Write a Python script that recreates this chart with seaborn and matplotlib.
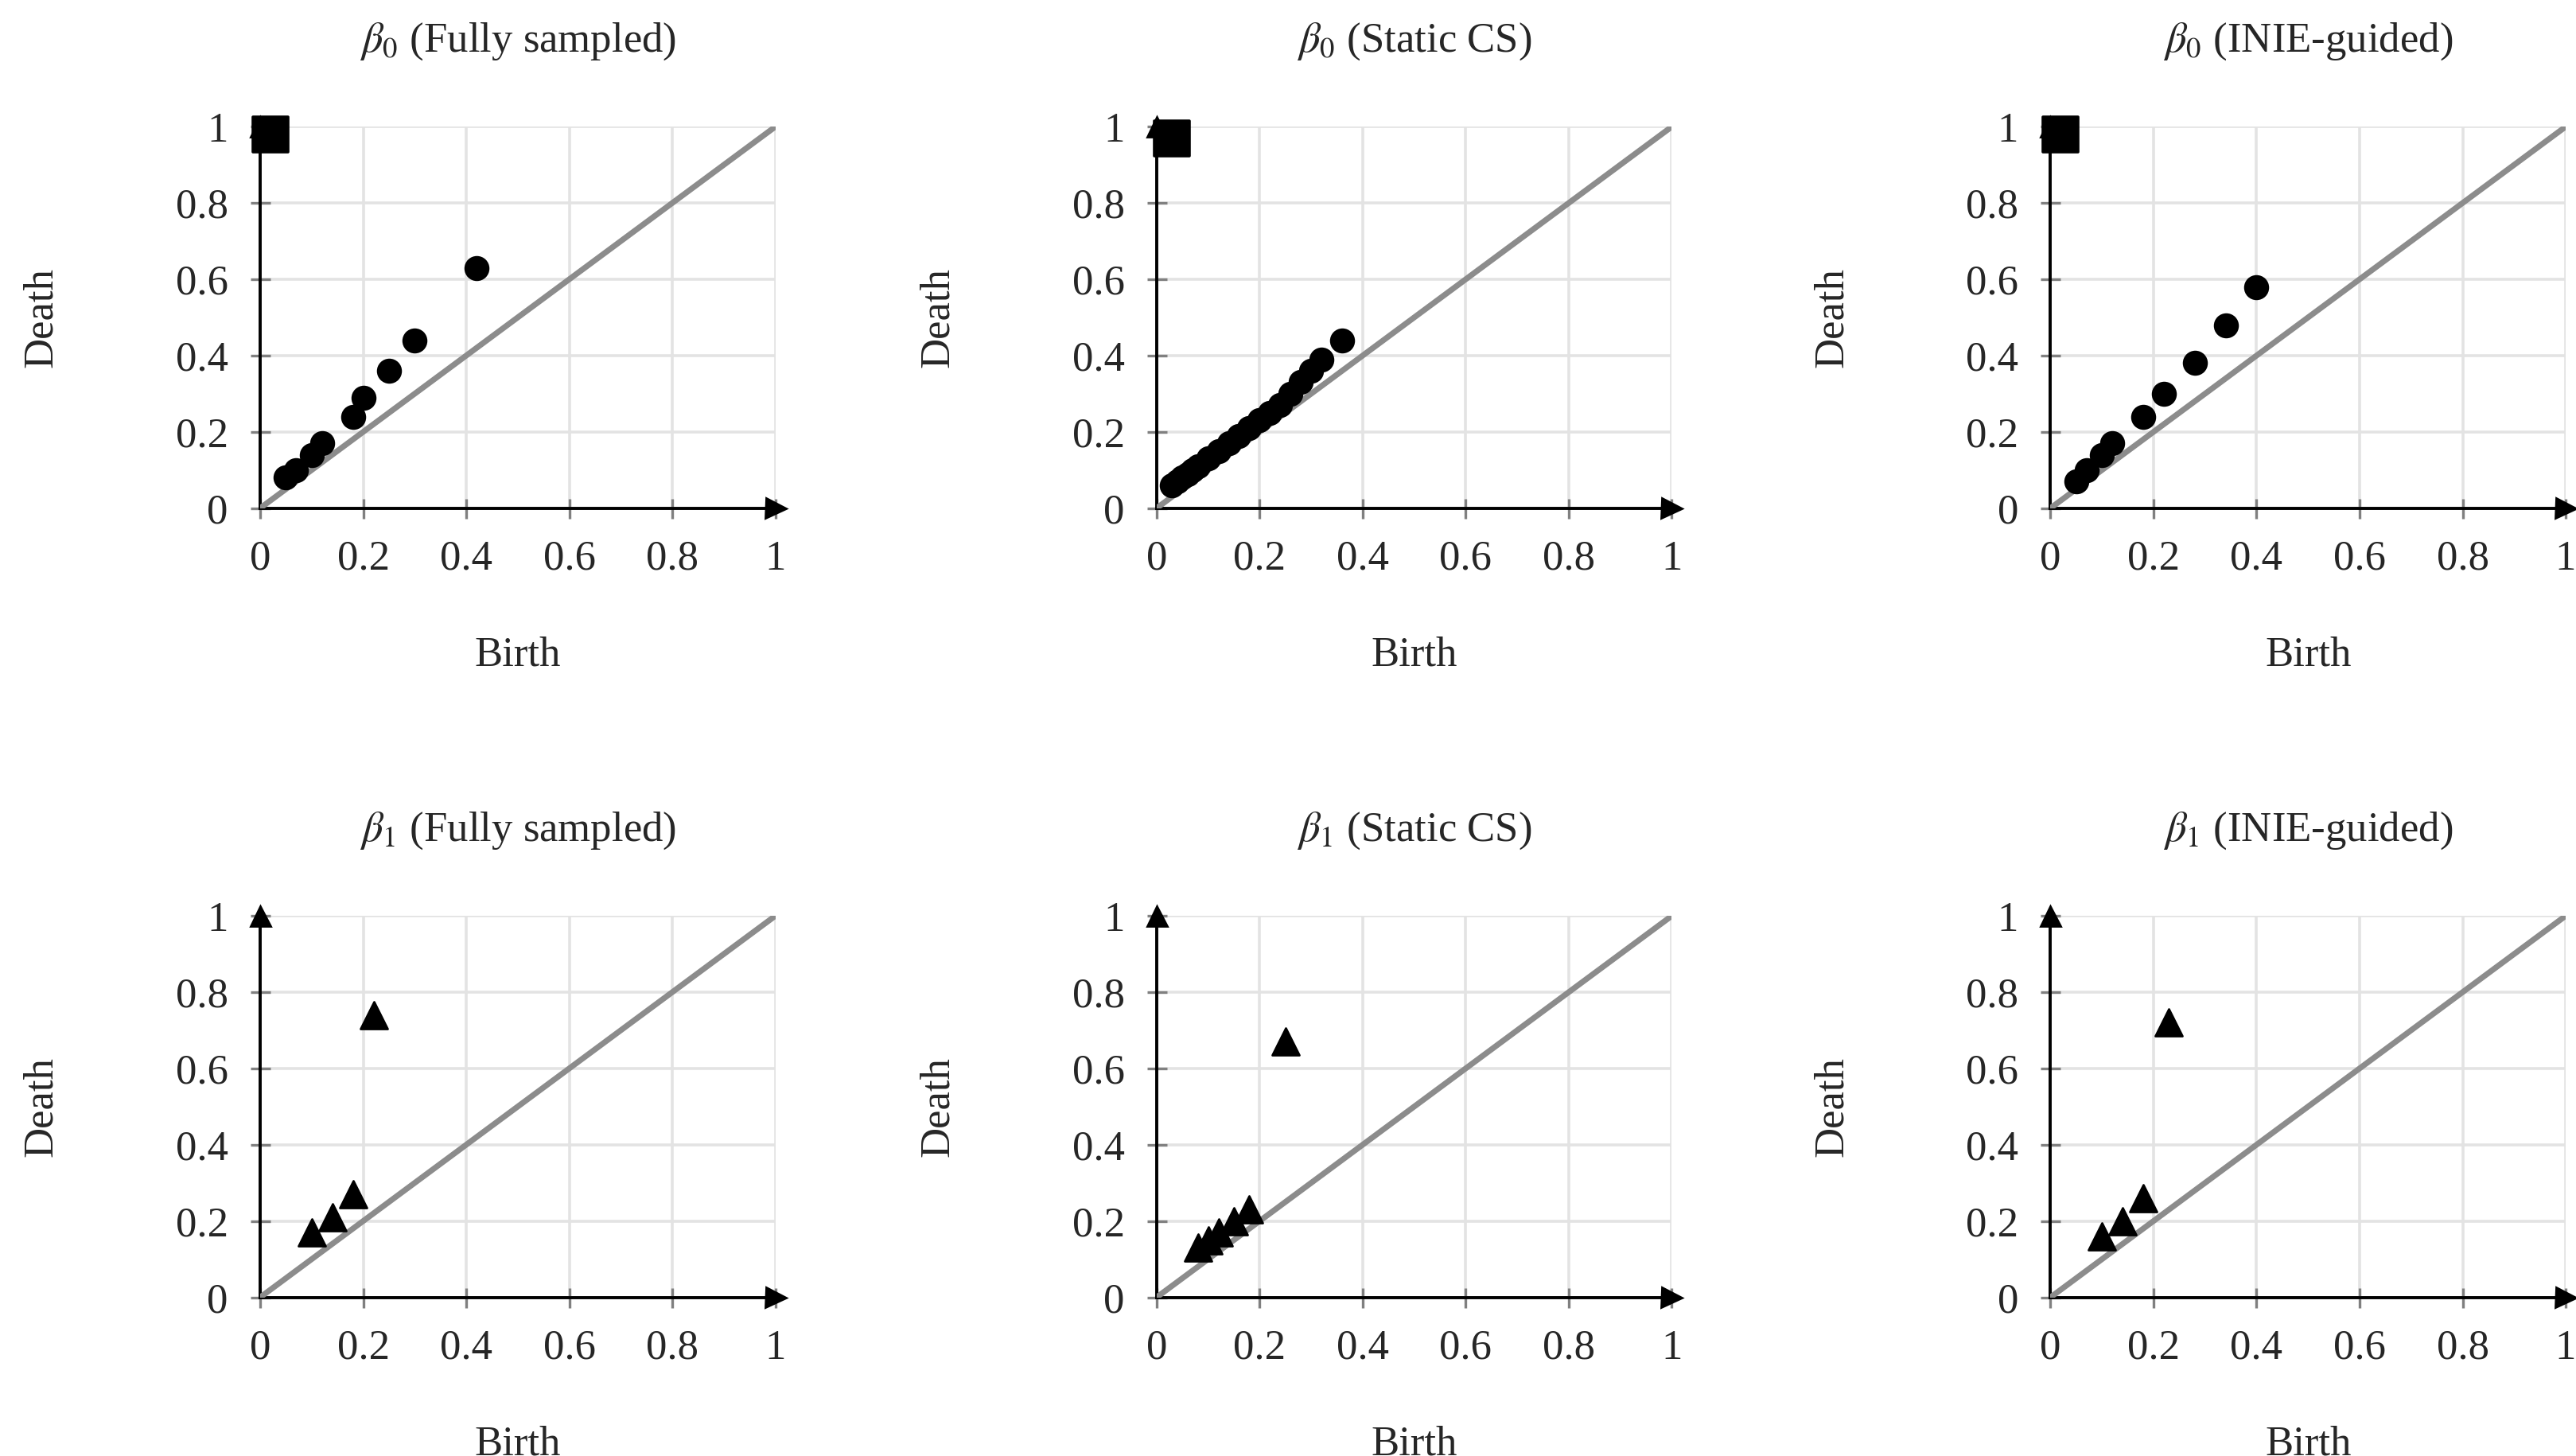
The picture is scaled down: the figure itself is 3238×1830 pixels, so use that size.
import matplotlib

matplotlib.use("Agg")
import matplotlib.pyplot as plt
import numpy as np
import pandas as pd
import seaborn as sns

# beta_0 diagrams (birth, death)
b0_full_birth = [0.05, 0.07, 0.10, 0.12, 0.18, 0.20, 0.25, 0.30, 0.42]
b0_full_death = [0.08, 0.10, 0.14, 0.17, 0.24, 0.29, 0.36, 0.44, 0.63]
b0_static_birth = [0.03, 0.04, 0.05, 0.06, 0.07, 0.08, 0.10, 0.12, 0.14, 0.16,
                   0.18, 0.20, 0.22, 0.24, 0.26, 0.28, 0.30, 0.32, 0.36]
b0_static_death = [0.06, 0.07, 0.08, 0.09, 0.10, 0.11, 0.13, 0.15, 0.17, 0.19,
                   0.21, 0.23, 0.25, 0.27, 0.30, 0.33, 0.36, 0.39, 0.44]
b0_inie_birth = [0.05, 0.07, 0.10, 0.12, 0.18, 0.22, 0.28, 0.34, 0.40]
b0_inie_death = [0.07, 0.10, 0.14, 0.17, 0.24, 0.30, 0.38, 0.48, 0.58]
# essential class (infinite death) markers
ess_birth = [0.02, 0.03, 0.02]
ess_death = [0.98, 0.97, 0.98]

# beta_1 diagrams
b1_full_birth = [0.10, 0.14, 0.18, 0.22]
b1_full_death = [0.17, 0.21, 0.27, 0.74]
b1_static_birth = [0.08, 0.10, 0.12, 0.15, 0.18, 0.25]
b1_static_death = [0.13, 0.15, 0.17, 0.20, 0.23, 0.67]
b1_inie_birth = [0.10, 0.14, 0.18, 0.23]
b1_inie_death = [0.16, 0.20, 0.26, 0.72]

methods = ["Fully sampled", "Static CS", "INIE-guided"]
ticks = [0, 0.2, 0.4, 0.6, 0.8, 1]
tick_labels = ["0", "0.2", "0.4", "0.6", "0.8", "1"]

sns.set_theme(style="white")
plt.rcParams["font.family"] = ["Liberation Serif", "DejaVu Serif"]
plt.rcParams["mathtext.fontset"] = "stix"

fig = plt.figure(figsize=(16.19, 9.15), dpi=200)
lefts = [0.101, 0.449, 0.796]
bottoms = [0.651, 0.109]

b0 = [(b0_full_birth, b0_full_death), (b0_static_birth, b0_static_death),
      (b0_inie_birth, b0_inie_death)]
b1 = [(b1_full_birth, b1_full_death), (b1_static_birth, b1_static_death),
      (b1_inie_birth, b1_inie_death)]


def style_axis(ax, title):
    ax.set_xlim(0, 1)
    ax.set_ylim(0, 1)
    ax.set_xticks(ticks)
    ax.set_yticks(ticks)
    ax.set_xticklabels(tick_labels, fontsize=19)
    ax.set_yticklabels(tick_labels, fontsize=19)
    ax.grid(True, color="#e3e3e3", lw=1.3)
    ax.set_axisbelow(True)
    for side in ["top", "right"]:
        ax.spines[side].set_visible(False)
    for side in ["left", "bottom"]:
        ax.spines[side].set_color("black")
        ax.spines[side].set_linewidth(1.4)
        ax.spines[side].set_zorder(1)
    ax.tick_params(direction="inout", length=9, width=1.2, color="#808080",
                   bottom=True, left=True, pad=10)
    ax.plot([1], [0], marker=">", color="black", ms=9, clip_on=False,
            transform=ax.transAxes, zorder=5)
    ax.plot([0], [1], marker="^", color="black", ms=9, clip_on=False,
            transform=ax.transAxes, zorder=5)
    ax.plot([0, 1], [0, 1], color="#8c8c8c", lw=2.6, zorder=2)
    ax.set_xlabel("Birth", fontsize=19, labelpad=26)
    ax.set_ylabel("Death", fontsize=19, labelpad=52)
    ax.set_title(title, fontsize=19, pad=34)


for i, method in enumerate(methods):
    ax = fig.add_axes([lefts[i], bottoms[0], 0.2, 0.262])
    df = pd.DataFrame({"Birth": b0[i][0], "Death": b0[i][1]})
    sns.scatterplot(data=df, x="Birth", y="Death", ax=ax, color="black",
                    marker="o", s=110, edgecolor="black", zorder=6)
    ess = pd.DataFrame({"Birth": [ess_birth[i]], "Death": [ess_death[i]]})
    sns.scatterplot(data=ess, x="Birth", y="Death", ax=ax, color="black",
                    marker="s", s=260, edgecolor="black", zorder=6, clip_on=False)
    style_axis(ax, r"$\beta_0$ (" + method + ")")

    ax = fig.add_axes([lefts[i], bottoms[1], 0.2, 0.262])
    df = pd.DataFrame({"Birth": b1[i][0], "Death": b1[i][1]})
    sns.scatterplot(data=df, x="Birth", y="Death", ax=ax, color="black",
                    marker="^", s=150, edgecolor="black", zorder=6)
    style_axis(ax, r"$\beta_1$ (" + method + ")")

fig.savefig("out.png", dpi=200)
